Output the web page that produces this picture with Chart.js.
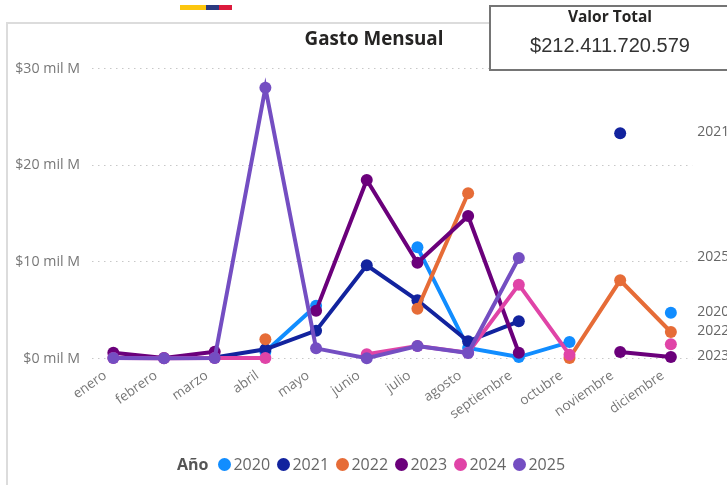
<!DOCTYPE html>
<html lang="es">
<head>
  <meta charset="UTF-8" />
  <title>Gasto Mensual</title>
  <style>
    * { box-sizing: border-box; margin: 0; padding: 0; }
    body { width: 727px; height: 485px; background: #fff; position: relative; overflow: hidden; font-family: "Open Sans", sans-serif; }
    canvas { position: absolute; left: 0; top: 0; }
    .flag { position: absolute; left: 180px; top: 5px; width: 52px; height: 5px; display: flex; }
    .flag div:nth-child(1) { width: 26px; background: #fcc60e; }
    .flag div:nth-child(2) { width: 13px; background: #2b3a80; }
    .flag div:nth-child(3) { width: 13px; background: #dc1a3c; }
    .card { position: absolute; left: 6px; top: 22px; width: 740px; height: 480px; border: 2px solid #dcdcdc; }
    .title { position: absolute; left: 274px; width: 200px; top: 25px; text-align: center; font-weight: 700; font-size: 18.8px; color: #252423; }
    .kpi { position: absolute; left: 489px; top: 5px; width: 250px; height: 66px; background: #fff; border: 2px solid #757575; }
    .kpi .lbl { position: absolute; left: 0; width: 238px; top: -2px; text-align: center; font-weight: 700; font-size: 15.5px; color: #252423; }
    .kpi .val { position: absolute; left: 0; width: 238px; top: 27px; text-align: center; font-family: "Liberation Sans", sans-serif; font-size: 20px; color: #333; }
    .legend { position: absolute; left: 177px; top: 454px; display: flex; align-items: center; font-size: 16px; color: #666; line-height: 20px; }
    .legend b { margin-right: 10px; color: #555; }
    .legend span { display: flex; align-items: center; width: 59px; }
    .legend i { width: 13px; height: 13px; border-radius: 50%; margin-right: 2px; }
  </style>
</head>
<body>
  <div class="flag"><div></div><div></div><div></div></div>
  <div class="card"></div>
  <canvas id="chart" width="727" height="485"></canvas>
  <div class="title">Gasto Mensual</div>
  <div class="kpi">
    <div class="lbl">Valor Total</div>
    <div class="val">$212.411.720.579</div>
  </div>
  <div class="legend" id="legend"><b>Año</b></div>

  <script src="https://cdn.jsdelivr.net/npm/chart.js"></script>
  <script>
    const months = ['enero', 'febrero', 'marzo', 'abril', 'mayo', 'junio', 'julio', 'agosto', 'septiembre', 'octubre', 'noviembre', 'diciembre'];
    const years = ['2020', '2021', '2022', '2023', '2024', '2025'];
    const yTicks = [0, 10, 20, 30];
    const endLabels = ['2020', '2021', '2022', '2023', '2025'];

    const gasto2020 = [null, null, null, 0.7, 5.45, null, 11.5, 1.08, 0.15, 1.7, null, 4.74];
    const gasto2021 = [null, null, 0.1, 0.95, 2.88, 9.64, 6.02, 1.78, 3.85, null, 23.3, null];
    const gasto2022 = [null, null, null, 1.98, null, null, 5.15, 17.1, null, 0.05, 8.09, 2.74];
    const gasto2023 = [0.6, 0.05, 0.7, null, 4.95, 18.46, 9.9, 14.74, 0.6, null, 0.67, 0.15];
    const gasto2024 = [0.05, 0.02, 0.05, 0.05, null, 0.45, 1.3, 0.6, 7.64, 0.4, null, 1.47];
    const gasto2025 = [0.05, 0.02, 0.05, 28, 1.05, 0.02, 1.29, 0.57, 10.4, null, null, null];

    const allSeries = [gasto2020, gasto2021, gasto2022, gasto2023, gasto2024, gasto2025];
    const colors = ['#118dff', '#12239e', '#e66c37', '#6b007b', '#e044a7', '#744ec2'];

    // dotted grid, a bit shorter than the plot area
    const dottedGrid = {
      id: 'dottedGrid',
      beforeDatasetsDraw(chart) {
        const { ctx, chartArea, scales } = chart;
        ctx.save();
        ctx.strokeStyle = '#c8c8c8';
        ctx.setLineDash([1.5, 4.5]);
        yTicks.forEach(t => {
          const y = Math.floor(scales.y.getPixelForValue(t)) + 0.5;
          ctx.beginPath();
          ctx.moveTo(chartArea.left + 4, y);
          ctx.lineTo(chartArea.right - 4, y);
          ctx.stroke();
        });
        ctx.restore();
      }
    };

    // year labels on the right, next to the last point of each series
    const seriesEndLabels = {
      id: 'seriesEndLabels',
      afterDatasetsDraw(chart) {
        const { ctx, chartArea, scales } = chart;
        ctx.save();
        ctx.font = '14px "Open Sans"';
        ctx.fillStyle = '#666';
        ctx.textBaseline = 'middle';
        endLabels.forEach(year => {
          const values = allSeries[years.indexOf(year)];
          const last = values.filter(v => v !== null).pop();
          ctx.fillText(year, chartArea.right + 1, scales.y.getPixelForValue(last) - 1);
        });
        ctx.restore();
      }
    };

    new Chart(document.getElementById('chart'), {
      type: 'line',
      data: {
        labels: months,
        datasets: years.map((year, i) => ({
          label: year,
          data: allSeries[i],
          borderColor: colors[i],
          backgroundColor: colors[i],
          borderWidth: 4,
          pointRadius: 6,
          pointBorderWidth: 0,
          pointHoverRadius: 6,
          tension: 0,
          clip: false,
          order: years.length - i
        }))
      },
      options: {
        responsive: false,
        animation: false,
        layout: { padding: { top: 68.5, right: 30.8 } },
        plugins: { legend: { display: false }, title: { display: false } },
        scales: {
          x: {
            offset: true,
            grid: { display: false },
            border: { display: false },
            afterFit(scale) { scale.height = 126.5; },
            ticks: {
              color: '#777',
              font: { family: 'Open Sans', size: 13.6 },
              minRotation: 35,
              maxRotation: 35,
              autoSkip: false,
              padding: 1,
              labelOffset: -8
            }
          },
          y: {
            min: 0,
            max: 30,
            grid: { display: false },
            border: { display: false },
            afterFit(scale) { scale.width = 88; },
            afterBuildTicks(scale) { scale.ticks = yTicks.map(v => ({ value: v })); },
            ticks: {
              color: '#777',
              font: { family: 'Open Sans', size: 14.2 },
              padding: 0,
              callback: v => '$' + v + ' mil M'
            }
          }
        }
      },
      plugins: [dottedGrid, seriesEndLabels]
    });

    const legend = document.getElementById('legend');
    years.forEach((year, i) => {
      const item = document.createElement('span');
      item.innerHTML = '<i style="background:' + colors[i] + '"></i>' + year;
      legend.appendChild(item);
    });
  </script>
</body>
</html>
